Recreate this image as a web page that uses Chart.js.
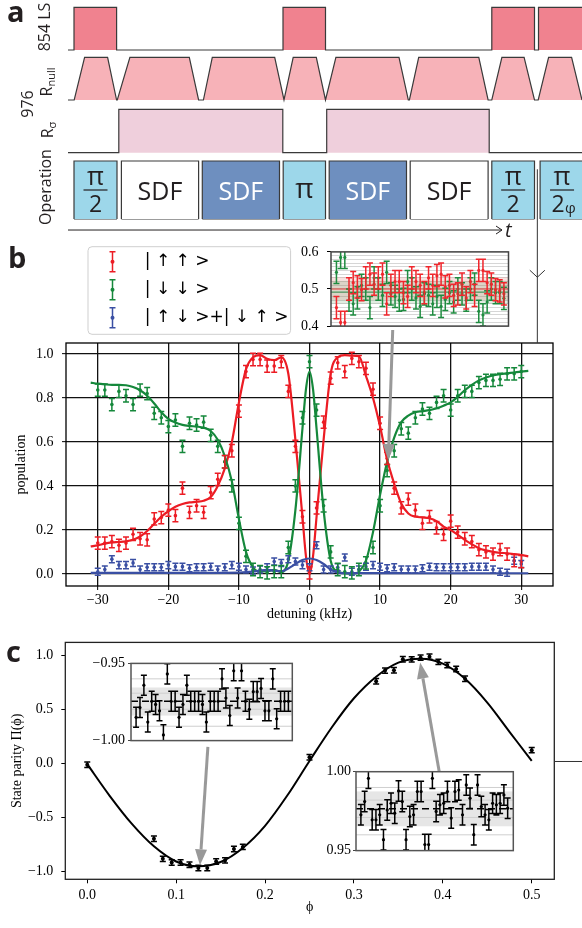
<!DOCTYPE html>
<html>
<head>
<meta charset="utf-8">
<title>SDF sequence, populations and parity</title>
<script src="https://cdn.jsdelivr.net/npm/chart.js@4.4.1/dist/chart.umd.min.js"></script>
<style>
  html, body { margin: 0; padding: 0; background: #fff; }
  #page { position: relative; width: 582px; height: 928px; overflow: hidden; }
  #page canvas { position: absolute; }
  .txt { position: absolute; font-family: "Open Sans", sans-serif; color: #231f20; white-space: nowrap; line-height: 1; }
  .rot { font-size: 16px; transform: translate(-50%, -50%) rotate(-90deg); }
  .rot sub { font-size: 11px; vertical-align: -3px; line-height: 0; }
  .panel { font-size: 29px; font-weight: 700; }
</style>
</head>
<body>
<div id="page">
  <canvas id="rowLS" width="582" height="51" style="left:0;top:3px"></canvas>
  <canvas id="rowNull" width="582" height="50" style="left:0;top:54px"></canvas>
  <canvas id="rowSigma" width="582" height="53" style="left:0;top:104px"></canvas>
  <canvas id="rowOp" width="582" height="83" style="left:0;top:157px"></canvas>
  <canvas id="chartB" width="582" height="480" style="left:0;top:160px"></canvas>
  <canvas id="insetB" width="230" height="108" style="left:285px;top:235px"></canvas>
  <canvas id="chartC" width="582" height="302" style="left:0;top:626px"></canvas>
  <canvas id="insetC1" width="215" height="100" style="left:85px;top:652px"></canvas>
  <canvas id="insetC2" width="210" height="100" style="left:310px;top:761px"></canvas>

  <div class="txt panel" style="left:7px;top:-4px">a</div>
  <div class="txt panel" style="left:8px;top:242px">b</div>
  <div class="txt panel" style="left:6px;top:636px">c</div>
  <div class="txt rot" style="left:44px;top:27px">854 LS</div>
  <div class="txt rot" style="left:46px;top:82px">R<sub>null</sub></div>
  <div class="txt rot" style="left:27px;top:104px">976</div>
  <div class="txt rot" style="left:47px;top:130px">R<sub>σ</sub></div>
  <div class="txt rot" style="left:45px;top:187px">Operation</div>
  <div class="txt" style="left:505px;top:220px;font-size:20px;font-style:italic">t</div>
</div>

<script>
// ── Panel a: pulse sequence (time in arbitrary units) ───────────────

const T_MAX = 51.4;
const T_END = 51.6;
const T_ARROW = 43.4;

const LS_PULSES = [[0.6, 4.86], [21.5, 25.75], [42.38, 46.65], [47.05, 51.6]];
const RNULL_PULSES = [
  [0.62, 1.66, 3.96, 4.86], [4.93, 6.19, 12.13, 13.06], [13.54, 14.43, 20.67, 21.6],
  [21.6, 22.52, 24.83, 25.75], [25.79, 26.79, 33.1, 34.03], [34.14, 35.07, 41.08, 42.01],
  [42.38, 43.39, 45.61, 46.65], [47.02, 48.06, 50.36, 51.4],
];
const RSIGMA_PULSES = [[5.08, 21.48], [25.87, 42.12]];

const OP_START = [0.6, 5.34, 13.43, 21.52, 26.12, 34.22, 42.38, 47.21];
const OP_END   = [4.9, 13.06, 21.15, 25.75, 33.85, 42.01, 46.65, 51.6];
const OP_LABELS = ['π/2', 'SDF', 'SDF', 'π', 'SDF', 'SDF', 'π/2', 'π/2φ'];
const OP_KIND   = ['pulse', 'sdf', 'sdfm', 'pulse', 'sdfm', 'sdf', 'pulse', 'pulse'];

// ── Panel b: populations vs detuning ────────────────────────────────

const DETUNING = [-30, -29, -28, -27, -26, -25, -24, -23, -22, -21, -20, -19, -18, -17, -16, -15,
  -14, -13, -12, -11, -10, -9, -8, -7, -6, -5, -4, -3, -2, -1, 0, 1, 2, 3, 4, 5, 6, 7, 8, 9, 10,
  11, 12, 13, 14, 15, 16, 17, 18, 19, 20, 21, 22, 23, 24, 25, 26, 27, 28, 29, 30];
const POP_UPUP = [0.14, 0.14, 0.147, 0.13, 0.14, 0.18, 0.16, 0.155, 0.25, 0.256,
  0.29, 0.265, 0.39, 0.28, 0.31, 0.28, 0.37, 0.43, 0.51, 0.56,
  0.74, 0.92, 0.975, 0.975, 0.945, 0.945, 0.965, 0.83, 0.58, 0.26,
  0.005,
  0.30, 0.69, 0.89, 0.96, 0.92, 0.98, 0.965, 0.935, 0.84, 0.685,
  0.525, 0.39, 0.30, 0.34, 0.29, 0.23, 0.26, 0.21, 0.18, 0.24,
  0.19, 0.16, 0.147, 0.11, 0.10, 0.09, 0.11, 0.09, 0.06, 0.056];
const POP_DNDN = [0.836, 0.836, 0.77, 0.83, 0.81, 0.77, 0.836, 0.82, 0.73, 0.71,
  0.67, 0.70, 0.58, 0.685, 0.677, 0.69, 0.63, 0.58, 0.51, 0.40,
  0.23, 0.08, 0.02, 0.01, 0.005, 0.01, 0.01, 0.12, 0.40, 0.71,
  0.965,
  0.745, 0.31, 0.10, 0.02, 0.01, 0.005, 0.02, 0.05, 0.12, 0.31,
  0.47, 0.56, 0.66, 0.64, 0.71, 0.75, 0.73, 0.78, 0.81, 0.745,
  0.81, 0.83, 0.83, 0.87, 0.88, 0.88, 0.885, 0.91, 0.91, 0.92];
const POP_MIXED = [0.01, 0.02, 0.067, 0.04, 0.04, 0.05, 0.02, 0.03, 0.03, 0.03,
  0.04, 0.033, 0.033, 0.026, 0.03, 0.03, 0.033, 0.02, 0.03, 0.04,
  0.033, 0.02, 0.015, 0.02, 0.03, 0.056, 0.05, 0.067, 0.056, 0.04,
  0.03,
  0.13, 0.02, 0.02, 0.03, 0.075, 0.01, 0.02, 0.033, 0.04, 0.033,
  0.026, 0.03, 0.02, 0.02, 0.02, 0.026, 0.033, 0.03, 0.03, 0.03,
  0.03, 0.03, 0.033, 0.033, 0.033, 0.02, 0.01, 0.005, 0.06, 0.045];

const FIT_X = [-31, -30, -29, -28, -27, -26, -25, -24, -23, -22, -21, -20, -19, -18, -17, -16,
  -15, -14, -13, -12, -11, -10, -9, -8, -7, -6, -5, -4, -3, -2, -1, -0.5, 0, 0.5, 1, 2, 3, 4, 5,
  6, 7, 8, 9, 10, 11, 12, 13, 14, 15, 16, 17, 18, 19, 20, 21, 22, 23, 24, 25, 26, 27, 28, 29, 30, 31];
const FIT_UPUP = [0.125, 0.13, 0.138, 0.143, 0.145, 0.148, 0.155, 0.17, 0.195, 0.228,
  0.26, 0.285, 0.305, 0.318, 0.325, 0.328, 0.333, 0.35, 0.40, 0.48,
  0.60, 0.78, 0.93, 0.985, 0.995, 0.978, 0.972, 0.985, 0.91, 0.61, 0.26,
  0.08, 0.0, 0.08,
  0.26, 0.61, 0.91, 0.985, 0.995, 0.993, 0.99, 0.90, 0.80, 0.67,
  0.52, 0.41, 0.32, 0.275, 0.26, 0.257, 0.253, 0.24, 0.215, 0.20,
  0.178, 0.155, 0.135, 0.117, 0.107, 0.1, 0.096, 0.094, 0.09, 0.086, 0.08];
const FIT_DNDN = [0.87, 0.865, 0.862, 0.86, 0.86, 0.858, 0.85, 0.835, 0.81, 0.775,
  0.735, 0.705, 0.688, 0.678, 0.673, 0.67, 0.665, 0.65, 0.61, 0.535,
  0.42, 0.25, 0.10, 0.03, 0.01, 0.012, 0.018, 0.008, 0.06, 0.29, 0.66,
  0.84, 0.92, 0.84,
  0.66, 0.29, 0.06, 0.01, 0.003, 0.0, 0.01, 0.06, 0.19, 0.36,
  0.51, 0.62, 0.69, 0.72, 0.735, 0.74, 0.745, 0.753, 0.765, 0.78,
  0.805, 0.835, 0.86, 0.88, 0.893, 0.903, 0.908, 0.912, 0.916, 0.92, 0.923];
const FIT_MIXED_X = [-31, -25, -20, -15, -10, -8, -7, -6, -5, -4, -3, -2, -1, 0, 1, 2, 3, 4, 5, 8, 10, 15, 20, 25, 31];
const FIT_MIXED = [0.005, 0.005, 0.005, 0.005, 0.006, 0.01, 0.015, 0.018, 0.015, 0.012, 0.025, 0.045,
  0.063, 0.07, 0.063, 0.045, 0.02, 0.006, 0.003, 0.004, 0.004, 0.003, 0.003, 0.003, 0.003];

const SERIES_LABELS = ['| ↑ ↑ >', '| ↓ ↓ >', '| ↑ ↓ >+| ↓ ↑ >'];
const DET_TICKS = [-30, -20, -10, 0, 10, 20, 30];
const POP_TICKS = [0, 0.2, 0.4, 0.6, 0.8, 1.0];

// inset of panel b: repeated measurements near the crossing
const INSET_UPUP = [0.45, 0.41, 0.41, 0.50, 0.517, 0.506, 0.498, 0.53, 0.54, 0.513, 0.53, 0.54, 0.46,
  0.51, 0.52, 0.52, 0.49, 0.48, 0.53, 0.52, 0.51, 0.49, 0.53, 0.51, 0.536, 0.54, 0.506, 0.51, 0.483,
  0.487, 0.513, 0.476, 0.52, 0.483, 0.55, 0.55, 0.517, 0.513, 0.498, 0.495, 0.487];
const INSET_DNDN = [0.545, 0.585, 0.585, 0.47, 0.46, 0.476, 0.51, 0.50, 0.45, 0.53, 0.50, 0.483, 0.545,
  0.487, 0.48, 0.47, 0.472, 0.52, 0.50, 0.476, 0.453, 0.487, 0.483, 0.46, 0.48, 0.453, 0.472, 0.49,
  0.465, 0.50, 0.487, 0.47, 0.50, 0.513, 0.44, 0.43, 0.465, 0.50, 0.49, 0.49, 0.475];
const INSET_UPUP_MEAN = 0.5;
const INSET_DNDN_MEAN = 0.4917;
const INSET_UPUP_BAND = [0.47, 0.532];
const INSET_DNDN_BAND = [0.46, 0.522];
const INSET_TICKS = [0.40, 0.41, 0.42, 0.43, 0.44, 0.45, 0.46, 0.47, 0.48, 0.49, 0.50,
  0.51, 0.52, 0.53, 0.54, 0.55, 0.56, 0.57, 0.58, 0.59, 0.60];

// ── Panel c: parity vs phase ────────────────────────────────────────

const PHASE = [0, 0.075, 0.085, 0.095, 0.105, 0.115, 0.125, 0.135, 0.145, 0.155, 0.165, 0.175, 0.25,
  0.325, 0.335, 0.345, 0.355, 0.365, 0.375, 0.385, 0.395, 0.405, 0.415, 0.425, 0.5];
const PARITY = [-0.015, -0.70, -0.886, -0.92, -0.92, -0.94, -0.97, -0.97, -0.91, -0.90, -0.795, -0.775,
  0.054, 0.757, 0.856, 0.86, 0.961, 0.96, 0.976, 0.985, 0.937, 0.907, 0.871, 0.78, 0.12];
const FIT_PHASE = [0, 0.025, 0.05, 0.075, 0.1, 0.125, 0.15, 0.175, 0.2, 0.225, 0.25,
  0.275, 0.3, 0.325, 0.35, 0.375, 0.4, 0.425, 0.45, 0.475, 0.5];
const FIT_PARITY = [-0.01, -0.30, -0.56, -0.77, -0.91, -0.955, -0.915, -0.785, -0.58, -0.30, 0.02,
  0.33, 0.60, 0.80, 0.93, 0.965, 0.92, 0.78, 0.56, 0.29, 0.02];
const PHASE_TICKS = [0, 0.1, 0.2, 0.3, 0.4, 0.5];
const PARITY_TICKS = [-1, -0.5, 0, 0.5, 1];

const MIN_REPEATS = [-0.9849, -0.9786, -0.9641, -0.9880, -0.9745, -0.9766, -0.9807, -0.9963, -0.9568, -0.9745,
  -0.9745, -0.9849, -0.9766, -0.9641, -0.9745, -0.9745, -0.9745, -0.9766, -0.9880, -0.9745,
  -0.9745, -0.9745, -0.9600, -0.9724, -0.9838, -0.9548, -0.9724, -0.9548, -0.9745, -0.9797,
  -0.9683, -0.9683, -0.9662, -0.9807, -0.9807, -0.9600, -0.9859, -0.9745, -0.9745, -0.9745];
const MIN_MEAN = -0.9745;
const MIN_BAND = [-0.9838, -0.9656];
const MIN_LEVELS = [-0.9907, -0.9797, -0.9693, -0.96];
const MIN_TICKS = [-1.0, -0.95];

const MAX_REPEATS = [0.9727, 0.9811, 0.9958, 0.9695, 0.9695, 0.9727, 0.9569, 0.9758, 0.9800, 0.9737,
  0.9878, 0.9811, 0.9569, 0.9716, 0.9727, 0.9874, 0.9874, 0.9538, 0.9538, 0.9958,
  0.9748, 0.9790, 0.9800, 0.9874, 0.9706, 0.9874, 0.9884, 0.9727, 0.9916, 0.9832,
  0.9601, 0.9916, 0.9779, 0.9727, 0.9695, 0.9800, 0.9790, 0.9800, 0.9853, 0.9769];
const MAX_MEAN = 0.9765;
const MAX_BAND = [0.9654, 0.9875];
const MAX_LEVELS = [0.96, 0.971, 0.982, 0.99];
const MAX_TICKS = [0.95, 1.0];

// arrows from insets to the data (data coordinates of the host chart)
const B_ARROW = [[11.79, 1.109], [11.16, 0.518]];
const C_ARROWS = [[[0.1357, 0.150], [0.1268, -0.946]], [[0.3967, -0.114], [0.3745, 0.93]]];
const B_LINK = { x: 32.28, from: 1.84, to: 1.05, head: 1.349 };
const C_LINK = { y: 0.015, from: 0.5254, to: 0.557 };

// ── Styles ──────────────────────────────────────────────────────────

const SERIF = '"Liberation Serif", "Times New Roman", serif';
const EDGE = '#3a3a3a';
const RED = '#ec1c24';
const GREEN = '#15883b';
const BLUE = '#3a4fa3';
const OP_COLORS = { pulse: '#9dd7ea', sdf: '#ffffff', sdfm: '#6e8fbf' };
const OP_TEXT = { pulse: '#231f20', sdf: '#231f20', sdfm: '#ffffff' };

const fmt = (v, d) => (v < -1e-9 ? '\u2212' : '') + Math.abs(v).toFixed(d);
const pts = (xs, ys) => xs.map((x, i) => ({ x, y: ys[i] }));
const byIndex = ys => ys.map((y, i) => ({ x: i, y }));

// ── Plugins ─────────────────────────────────────────────────────────

const errorBarPlugin = {
  id: 'errorBars',
  afterDatasetsDraw(chart) {
    const { ctx, chartArea: a } = chart;
    const y = chart.scales.y;
    ctx.save();
    ctx.beginPath();
    ctx.rect(a.left, a.top, a.right - a.left, a.bottom - a.top);
    ctx.clip();
    chart.data.datasets.forEach((ds, i) => {
      if (ds.errorBar == null) return;
      const meta = chart.getDatasetMeta(i);
      const cap = ds.capHalf || 3;
      ctx.strokeStyle = ds.backgroundColor;
      ctx.lineWidth = ds.errorWidth || 1.5;
      ctx.beginPath();
      meta.data.forEach((pt, j) => {
        const v = ds.data[j].y;
        const top = y.getPixelForValue(v + ds.errorBar);
        const bot = y.getPixelForValue(v - ds.errorBar);
        ctx.moveTo(pt.x, top); ctx.lineTo(pt.x, bot);
        ctx.moveTo(pt.x - cap, top); ctx.lineTo(pt.x + cap, top);
        ctx.moveTo(pt.x - cap, bot); ctx.lineTo(pt.x + cap, bot);
      });
      ctx.stroke();
    });
    ctx.restore();
  }
};

const framePlugin = {
  id: 'frame',
  afterDatasetsDraw(chart, args, opts) {
    const { ctx, chartArea: a } = chart;
    ctx.save();
    ctx.strokeStyle = opts.color || '#000';
    ctx.lineWidth = opts.width || 1.2;
    ctx.strokeRect(a.left, a.top, a.right - a.left, a.bottom - a.top);
    ctx.restore();
  }
};

// white background, shaded bands and reference lines for the insets
const decorPlugin = {
  id: 'decor',
  beforeDraw(chart) {
    const { ctx, chartArea: a } = chart;
    ctx.save();
    ctx.fillStyle = '#fff';
    ctx.fillRect(a.left, a.top, a.right - a.left, a.bottom - a.top);
    ctx.restore();
  },
  beforeDatasetsDraw(chart, args, o) {
    const { ctx, chartArea: a, scales: { y } } = chart;
    ctx.save();
    ctx.beginPath();
    ctx.rect(a.left, a.top, a.right - a.left, a.bottom - a.top);
    ctx.clip();
    (o.bands || []).forEach(b => {
      const t = y.getPixelForValue(b.range[1]);
      const btm = y.getPixelForValue(b.range[0]);
      ctx.fillStyle = b.color;
      ctx.fillRect(a.left, t, a.right - a.left, btm - t);
    });
    (o.lines || []).forEach(l => {
      const py = y.getPixelForValue(l.value);
      ctx.strokeStyle = l.color;
      ctx.lineWidth = l.width || 1;
      ctx.setLineDash(l.dash || []);
      ctx.beginPath();
      ctx.moveTo(a.left, py);
      ctx.lineTo(a.right, py);
      ctx.stroke();
    });
    ctx.restore();
  }
};

function drawArrow(ctx, x0, y0, x1, y1) {
  const ang = Math.atan2(y1 - y0, x1 - x0);
  const headLen = 16, headHalf = 6;
  const bx = x1 - headLen * Math.cos(ang), by = y1 - headLen * Math.sin(ang);
  ctx.strokeStyle = '#999';
  ctx.fillStyle = '#999';
  ctx.lineWidth = 3;
  ctx.beginPath();
  ctx.moveTo(x0, y0);
  ctx.lineTo(bx, by);
  ctx.stroke();
  ctx.beginPath();
  ctx.moveTo(x1, y1);
  ctx.lineTo(bx + headHalf * Math.sin(ang), by - headHalf * Math.cos(ang));
  ctx.lineTo(bx - headHalf * Math.sin(ang), by + headHalf * Math.cos(ang));
  ctx.closePath();
  ctx.fill();
}

const bExtrasPlugin = {
  id: 'bExtras',
  afterDraw(chart) {
    const { ctx, scales: { x, y } } = chart;
    ctx.save();
    // connector line coming from the right-hand part of the figure
    const lx = x.getPixelForValue(B_LINK.x);
    const hy = y.getPixelForValue(B_LINK.head);
    ctx.strokeStyle = '#333';
    ctx.lineWidth = 1;
    ctx.beginPath();
    ctx.moveTo(lx, y.getPixelForValue(B_LINK.from));
    ctx.lineTo(lx, y.getPixelForValue(B_LINK.to));
    ctx.moveTo(lx - 7.5, hy - 7);
    ctx.lineTo(lx, hy);
    ctx.lineTo(lx + 7.5, hy - 7);
    ctx.stroke();

    // legend
    const L = { left: 88, top: 86.7, width: 202.6, height: 87.6, first: 15, step: 28, iconX: 112.5, textX: 144.8 };
    const colors = [RED, GREEN, BLUE];
    ctx.fillStyle = 'rgba(255,255,255,0.85)';
    ctx.strokeStyle = '#cfcfcf';
    ctx.beginPath();
    ctx.roundRect(L.left, L.top, L.width, L.height, 4);
    ctx.fill();
    ctx.stroke();
    SERIES_LABELS.forEach((label, i) => {
      const cy = L.top + L.first + i * L.step;
      ctx.strokeStyle = colors[i];
      ctx.fillStyle = colors[i];
      ctx.lineWidth = 1.5;
      ctx.beginPath();
      ctx.moveTo(L.iconX, cy - 10); ctx.lineTo(L.iconX, cy + 10);
      ctx.moveTo(L.iconX - 3, cy - 10); ctx.lineTo(L.iconX + 3, cy - 10);
      ctx.moveTo(L.iconX - 3, cy + 10); ctx.lineTo(L.iconX + 3, cy + 10);
      ctx.stroke();
      ctx.beginPath();
      ctx.arc(L.iconX, cy, 2, 0, Math.PI * 2);
      ctx.fill();
      ctx.fillStyle = '#000';
      ctx.font = '17px "DejaVu Sans"';
      ctx.textBaseline = 'middle';
      ctx.textAlign = 'left';
      ctx.fillText(label, L.textX, cy);
    });

    // arrow from the inset
    drawArrow(ctx, x.getPixelForValue(B_ARROW[0][0]), y.getPixelForValue(B_ARROW[0][1]),
      x.getPixelForValue(B_ARROW[1][0]), y.getPixelForValue(B_ARROW[1][1]));
    ctx.restore();
  }
};

const cExtrasPlugin = {
  id: 'cExtras',
  afterDraw(chart) {
    const { ctx, scales: { x, y } } = chart;
    ctx.save();
    ctx.strokeStyle = '#333';
    ctx.lineWidth = 1;
    const ly = y.getPixelForValue(C_LINK.y);
    ctx.beginPath();
    ctx.moveTo(x.getPixelForValue(C_LINK.from), ly);
    ctx.lineTo(x.getPixelForValue(C_LINK.to), ly);
    ctx.stroke();
    C_ARROWS.forEach(([s, e]) => drawArrow(ctx, x.getPixelForValue(s[0]), y.getPixelForValue(s[1]),
      x.getPixelForValue(e[0]), y.getPixelForValue(e[1])));
    ctx.restore();
  }
};

const opLabelPlugin = {
  id: 'opLabels',
  afterDatasetsDraw(chart) {
    const { ctx, scales: { x, y } } = chart;
    ctx.save();
    ctx.textAlign = 'center';
    ctx.textBaseline = 'alphabetic';
    OP_LABELS.forEach((label, i) => {
      const cx = x.getPixelForValue((OP_START[i] + OP_END[i]) / 2);
      ctx.fillStyle = OP_TEXT[OP_KIND[i]];
      if (label === 'SDF') {
        ctx.font = '25px "Open Sans"';
        ctx.fillText('SDF', cx, y.getPixelForValue(0.33));
      } else if (label === 'π') {
        ctx.font = '28px "Open Sans"';
        ctx.fillText('π', cx, y.getPixelForValue(0.36));
      } else {
        ctx.font = '26px "Open Sans"';
        ctx.fillText('π', cx, y.getPixelForValue(0.59));
        ctx.fillRect(cx - 12, y.getPixelForValue(0.5) - 0.6, 24, 1.2);
        ctx.font = '23px "Open Sans"';
        if (label === 'π/2φ') {
          ctx.fillText('2', cx - 4, y.getPixelForValue(0.12));
          ctx.font = '15px "Open Sans"';
          ctx.textAlign = 'left';
          ctx.fillText('φ', cx + 3, y.getPixelForValue(0.1));
          ctx.textAlign = 'center';
        } else {
          ctx.fillText('2', cx, y.getPixelForValue(0.12));
        }
      }
    });
    // time axis
    const ay = y.getPixelForValue(-0.19);
    const x0 = x.getPixelForValue(0), x1 = x.getPixelForValue(T_ARROW);
    ctx.strokeStyle = '#231f20';
    ctx.lineWidth = 1;
    ctx.beginPath();
    ctx.moveTo(x0, ay); ctx.lineTo(x1, ay);
    ctx.moveTo(x1 - 6, ay - 4); ctx.lineTo(x1, ay); ctx.lineTo(x1 - 6, ay + 4);
    ctx.stroke();
    ctx.restore();
  }
};

// ── Chart helpers ───────────────────────────────────────────────────

function levelRange(canvasTop, canvasHeight, basePx, topPx) {
  const unit = basePx - topPx;
  const max = (basePx - canvasTop) / unit;
  return { min: max - canvasHeight / unit, max };
}

function squareWave(pulses) {
  const out = [{ x: 0, y: 0 }];
  pulses.forEach(([on, off]) => out.push({ x: on, y: 0 }, { x: on, y: 1 }, { x: off, y: 1 }, { x: off, y: 0 }));
  out.push({ x: T_END, y: 0 });
  return out;
}

function trapezoidWave(pulses) {
  const out = [{ x: 0, y: 0 }];
  pulses.forEach(([a, b, c, d]) => out.push({ x: a, y: 0 }, { x: b, y: 1 }, { x: c, y: 1 }, { x: d, y: 0 }));
  out.push({ x: T_END, y: 0 });
  return out;
}

function rowChart(id, range, datasets, plugins = []) {
  return new Chart(document.getElementById(id), {
    type: 'line',
    data: { datasets },
    options: {
      responsive: false, animation: false, devicePixelRatio: 1,
      layout: { padding: { left: 68, right: 0, top: 0, bottom: 0 } },
      plugins: { legend: { display: false }, tooltip: { enabled: false } },
      elements: { point: { radius: 0 }, line: { tension: 0 } },
      scales: {
        x: { type: 'linear', min: 0, max: T_MAX, display: false },
        y: { type: 'linear', min: range.min, max: range.max, display: false },
      },
    },
    plugins,
  });
}

function waveSet(data, fillColor) {
  return { data, borderColor: EDGE, borderWidth: 1.2, backgroundColor: fillColor, fill: 'origin', pointRadius: 0 };
}

function axis(o) {
  return {
    type: 'linear',
    min: o.min, max: o.max,
    afterBuildTicks: s => { s.ticks = o.ticks.map(v => ({ value: v })); },
    afterFit: s => { if (s.isHorizontal()) s.height = o.size; else s.width = o.size; },
    border: { display: false },
    grid: {
      display: true,
      drawOnChartArea: !!o.grid,
      color: o.grid || '#000',
      lineWidth: o.gridWidth || 1,
      drawTicks: true,
      tickLength: o.tickLength ?? 4,
      tickColor: o.tickColor || '#000',
      tickWidth: 1,
    },
    ticks: {
      autoSkip: false, maxRotation: 0, minRotation: 0,
      padding: o.labelPad ?? 3,
      color: '#000',
      font: { family: SERIF, size: 14 },
      callback: o.label || (v => fmt(v, o.digits)),
    },
    title: o.title
      ? { display: true, text: o.title, color: '#000', font: { family: SERIF, size: 14 }, padding: o.titlePad }
      : { display: false },
  };
}

const baseOptions = {
  responsive: false, animation: false, devicePixelRatio: 1,
  plugins: { legend: { display: false }, tooltip: { enabled: false } },
};

// ── Panel a ─────────────────────────────────────────────────────────

rowChart('rowLS', levelRange(3, 51, 50, 7.3), [waveSet(squareWave(LS_PULSES), '#f0828f')]);
rowChart('rowNull', levelRange(54, 50, 100, 57.3), [waveSet(trapezoidWave(RNULL_PULSES), '#f7b2b8')]);
rowChart('rowSigma', levelRange(104, 53, 152.7, 109.3), [waveSet(squareWave(RSIGMA_PULSES), '#efcfdc')]);

const opBoxes = OP_LABELS.map((_, i) => waveSet(
  [{ x: OP_START[i], y: 0 }, { x: OP_START[i], y: 1 }, { x: OP_END[i], y: 1 }, { x: OP_END[i], y: 0 }],
  OP_COLORS[OP_KIND[i]]));
const opBottoms = [];
OP_START.forEach((s, i) => opBottoms.push({ x: s, y: 0 }, { x: OP_END[i], y: 0 }, { x: OP_END[i], y: null }));
opBoxes.push({ data: opBottoms, borderColor: EDGE, borderWidth: 1.2, fill: false, pointRadius: 0, spanGaps: false });
rowChart('rowOp', levelRange(157, 83, 219, 161), opBoxes, [opLabelPlugin]);

// ── Panel b ─────────────────────────────────────────────────────────

const fitLine = (data, color) => ({ data, showLine: true, borderColor: color, borderWidth: 2.2,
  pointRadius: 0, cubicInterpolationMode: 'monotone', fill: false });
const dots = (data, color, err, r = 1.8) => ({ data, backgroundColor: color, borderWidth: 0,
  pointRadius: r, errorBar: err, capHalf: 3, errorWidth: 1.5 });

new Chart(document.getElementById('chartB'), {
  type: 'scatter',
  data: {
    datasets: [
      fitLine(pts(FIT_MIXED_X, FIT_MIXED), BLUE),
      fitLine(pts(FIT_X, FIT_DNDN), GREEN),
      fitLine(pts(FIT_X, FIT_UPUP), RED),
      dots(pts(DETUNING, POP_MIXED), BLUE, 0.016),
      dots(pts(DETUNING, POP_DNDN), GREEN, 0.028),
      dots(pts(DETUNING, POP_UPUP), RED, 0.028),
    ],
  },
  options: {
    ...baseOptions,
    layout: { padding: { top: 183, right: 29, left: 0, bottom: 0 } },
    scales: {
      x: axis({ min: -34.5, max: 34.5, ticks: DET_TICKS, digits: 0, size: 54, grid: '#111', gridWidth: 1.3,
        labelPad: 2, title: 'detuning (kHz)', titlePad: { top: 0, bottom: 17.6 } }),
      y: axis({ min: -0.055, max: 1.05, ticks: POP_TICKS, digits: 1, size: 66, grid: '#111', gridWidth: 1.3,
        labelPad: 8.5, title: 'population', titlePad: { top: 12.6, bottom: 0 } }),
    },
    plugins: { ...baseOptions.plugins, frame: { color: '#000', width: 1.3 } },
  },
  plugins: [errorBarPlugin, framePlugin, bExtrasPlugin],
});

const isMajor = v => Math.abs(v * 10 - Math.round(v * 10)) < 1e-6;

new Chart(document.getElementById('insetB'), {
  type: 'scatter',
  data: {
    datasets: [
      dots(byIndex(INSET_DNDN), '#1f8c40', 0.03, 1.6),
      dots(byIndex(INSET_UPUP), '#f0262c', 0.03, 1.6),
    ],
  },
  options: {
    ...baseOptions,
    layout: { padding: { top: 10, right: 6.5, left: 0, bottom: 10.3 } },
    scales: {
      x: { type: 'linear', min: -1.3, max: 41.1, display: false },
      y: axis({ min: 0.4, max: 0.6, ticks: INSET_TICKS, size: 46, grid: '#d6d6d6', labelPad: 8.5,
        tickColor: c => (c.tick && isMajor(c.tick.value) ? '#000' : 'rgba(0,0,0,0)'),
        label: v => (isMajor(v) ? v.toFixed(1) : '') }),
    },
    plugins: {
      ...baseOptions.plugins,
      frame: { color: '#444', width: 1.5 },
      decor: {
        bands: [
          { range: INSET_UPUP_BAND, color: 'rgba(225,110,100,0.20)' },
          { range: INSET_DNDN_BAND, color: 'rgba(90,150,90,0.18)' },
        ],
        lines: [
          { value: INSET_UPUP_MEAN, color: '#e03a3a', width: 1 },
          { value: INSET_DNDN_MEAN, color: '#2f9150', width: 1 },
        ],
      },
    },
  },
  plugins: [decorPlugin, errorBarPlugin, framePlugin],
});

// ── Panel c ─────────────────────────────────────────────────────────

new Chart(document.getElementById('chartC'), {
  type: 'scatter',
  data: {
    datasets: [
      { ...fitLine(pts(FIT_PHASE, FIT_PARITY), '#000'), borderWidth: 2 },
      dots(pts(PHASE, PARITY), '#000', 0.025, 2),
    ],
  },
  options: {
    ...baseOptions,
    layout: { padding: { top: 10, right: 27.7, left: 0, bottom: 0 } },
    scales: {
      x: axis({ min: -0.0247, max: 0.5254, ticks: PHASE_TICKS, digits: 1, size: 48.7, labelPad: 4,
        title: 'ϕ', titlePad: { top: 0, bottom: 12.6 } }),
      y: axis({ min: -1.075, max: 1.117, ticks: PARITY_TICKS, digits: 1, size: 65.3, labelPad: 8,
        title: 'State parity Π(ϕ)', titlePad: { top: 8.6, bottom: 0 } }),
    },
    plugins: { ...baseOptions.plugins, frame: { color: '#222', width: 1.3 } },
  },
  plugins: [errorBarPlugin, framePlugin, cExtrasPlugin],
});

function repeatInset(id, values, range, xMax, ticks, band, levels, mean, padding, labelPad) {
  return new Chart(document.getElementById(id), {
    type: 'scatter',
    data: { datasets: [dots(byIndex(values), '#000', 0.0065, 1.6)] },
    options: {
      ...baseOptions,
      layout: { padding },
      scales: {
        x: { type: 'linear', min: -1.3, max: xMax, display: false },
        y: axis({ min: range[0], max: range[1], ticks, digits: 2, size: 46, grid: '#555',
          tickLength: 3, tickColor: '#444', labelPad }),
      },
      plugins: {
        ...baseOptions.plugins,
        frame: { color: '#555', width: 1.5 },
        decor: {
          bands: [{ range: band, color: '#e6e6e6' }],
          lines: levels.map(v => ({ value: v, color: '#cfcfcf', width: 1 }))
            .concat([{ value: mean, color: '#000', width: 1.5, dash: [7, 4] }]),
        },
      },
    },
    plugins: [decorPlugin, errorBarPlugin, framePlugin],
  });
}

repeatInset('insetC1', MIN_REPEATS, [-1.0, -0.95], 40, MIN_TICKS, MIN_BAND, MIN_LEVELS, MIN_MEAN,
  { top: 10.7, right: 7.7, left: 0, bottom: 8.7 }, 3);
repeatInset('insetC2', MAX_REPEATS, [0.95, 1.0], 40.5, MAX_TICKS, MAX_BAND, MAX_LEVELS, MAX_MEAN,
  { top: 10.7, right: 6.7, left: 0, bottom: 10 }, 2);
</script>
</body>
</html>
